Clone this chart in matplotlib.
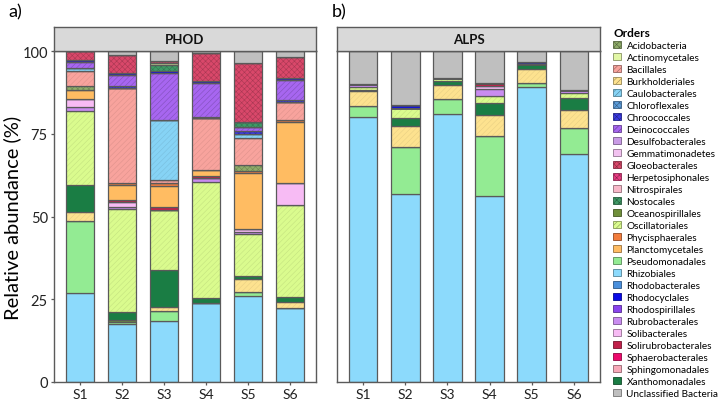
import matplotlib
matplotlib.use("Agg")
import matplotlib.pyplot as plt
from matplotlib.patches import Patch
import matplotlib.colors as mcolors
import numpy as np

plt.rcParams['font.family'] = ['Lato', 'DejaVu Sans']
plt.rcParams['hatch.linewidth'] = 0.4

samples = ["S1", "S2", "S3", "S4", "S5", "S6"]
panels = ["PHOD", "ALPS"]

# values: PHOD S1..S6, then ALPS S1..S6 (relative abundance, %)
rhizobiales         = [27.0, 17.5, 18.3, 23.8, 25.9, 22.4, 80.0, 56.8, 81.1, 56.3, 89.0, 68.8]
pseudomonadales     = [21.5, 0.7, 3.2, 0.0, 1.4, 0.0, 3.3, 14.1, 4.4, 18.1, 1.2, 8.0]
oceanospirillales   = [0.0, 0.6, 0.0, 0.0, 0.0, 0.0, 0.0, 0.0, 0.0, 0.0, 0.0, 0.0]
burkholderiales     = [2.8, 0.0, 1.1, 0.0, 3.8, 1.9, 4.5, 6.4, 4.3, 6.3, 4.5, 5.4]
xanthomonadales     = [8.3, 2.3, 11.2, 1.5, 1.0, 1.5, 0.5, 2.5, 1.0, 3.5, 1.4, 3.5]
oscillatoriales     = [22.2, 31.2, 18.3, 35.2, 12.6, 27.7, 0.9, 3.0, 1.0, 2.3, 0.0, 1.6]
rubrobacterales     = [1.4, 0.5, 0.0, 1.2, 0.5, 0.0, 0.8, 0.0, 0.0, 2.0, 0.0, 0.9]
solibacterales      = [2.3, 1.5, 0.0, 0.0, 1.0, 6.5, 0.0, 0.0, 0.0, 0.8, 0.0, 0.0]
gemmatimonadetes    = [0.0, 0.0, 0.0, 0.0, 0.0, 0.0, 0.0, 0.0, 0.0, 0.0, 0.0, 0.0]
solirubrobacterales = [0.0, 0.7, 0.7, 0.6, 0.0, 0.0, 0.0, 0.0, 0.0, 1.0, 0.0, 0.0]
planctomycetales    = [2.7, 4.6, 6.5, 1.8, 16.9, 18.7, 0.0, 0.0, 0.0, 0.0, 0.0, 0.0]
phycisphaerales     = [0.0, 0.5, 0.8, 0.0, 0.7, 0.5, 0.0, 0.0, 0.0, 0.0, 0.0, 0.0]
acidobacteria       = [1.3, 0.0, 0.0, 0.0, 1.8, 0.0, 0.0, 0.0, 0.0, 0.0, 0.0, 0.0]
bacillales          = [4.6, 28.6, 0.9, 15.7, 8.0, 5.3, 0.0, 0.0, 0.0, 0.0, 0.0, 0.0]
sphingomonadales    = [0.0, 0.0, 0.0, 0.0, 0.0, 0.0, 0.0, 0.0, 0.0, 0.0, 0.0, 0.0]
caulobacterales     = [0.9, 0.0, 18.2, 0.0, 1.3, 0.0, 0.0, 0.0, 0.0, 0.0, 0.0, 0.0]
chloroflexales      = [0.0, 0.0, 0.0, 0.0, 0.0, 0.0, 0.0, 0.0, 0.0, 0.0, 0.0, 0.0]
rhodobacterales     = [0.0, 0.0, 0.0, 0.0, 0.0, 0.0, 0.0, 0.0, 0.0, 0.0, 0.0, 0.0]
chroococcales       = [0.0, 0.8, 0.0, 0.4, 1.0, 0.6, 0.0, 0.0, 0.0, 0.0, 0.0, 0.0]
deinococcales       = [1.7, 3.3, 14.1, 10.0, 1.0, 6.2, 0.0, 0.0, 0.0, 0.0, 0.0, 0.0]
rhodospirillales    = [0.0, 0.0, 0.0, 0.0, 0.0, 0.0, 0.0, 0.0, 0.0, 0.0, 0.0, 0.0]
rhodocyclales       = [0.6, 0.6, 0.6, 0.8, 0.0, 0.4, 0.0, 1.0, 0.0, 0.0, 0.5, 0.0]
nostocales          = [0.0, 0.0, 1.9, 0.0, 1.6, 0.0, 0.0, 0.0, 0.0, 0.0, 0.0, 0.0]
actinomycetales     = [0.0, 0.0, 0.6, 0.0, 0.0, 0.0, 0.0, 0.0, 0.0, 0.0, 0.0, 0.0]
desulfobacterales   = [0.0, 0.0, 0.0, 0.0, 0.0, 0.0, 0.0, 0.0, 0.0, 0.0, 0.0, 0.0]
nitrospirales       = [0.0, 0.0, 0.0, 0.0, 0.0, 0.0, 0.0, 0.0, 0.0, 0.0, 0.0, 0.0]
gloeobacterales     = [2.7, 5.5, 0.7, 8.3, 17.9, 6.4, 0.0, 0.0, 0.0, 0.0, 0.0, 0.0]
herpetosiphonales   = [0.0, 0.0, 0.0, 0.0, 0.0, 0.0, 0.0, 0.0, 0.0, 0.0, 0.0, 0.0]
sphaerobacterales   = [0.0, 0.0, 0.0, 0.0, 0.0, 0.0, 0.0, 0.0, 0.0, 0.0, 0.0, 0.0]
unclassified        = [0.0, 1.1, 2.9, 0.7, 3.6, 1.9, 10.0, 16.2, 8.2, 9.7, 3.4, 11.8]

# legend order (as displayed)
legend_orders = ["Acidobacteria", "Actinomycetales", "Bacillales", "Burkholderiales",
                 "Caulobacterales", "Chloroflexales", "Chroococcales", "Deinococcales",
                 "Desulfobacterales", "Gemmatimonadetes", "Gloeobacterales",
                 "Herpetosiphonales", "Nitrospirales", "Nostocales", "Oceanospirillales",
                 "Oscillatoriales", "Phycisphaerales", "Planctomycetales", "Pseudomonadales",
                 "Rhizobiales", "Rhodobacterales", "Rhodocyclales", "Rhodospirillales",
                 "Rubrobacterales", "Solibacterales", "Solirubrobacterales",
                 "Sphaerobacterales", "Sphingomonadales", "Xanthomonadales",
                 "Unclassified Bacteria"]

colors = {
    "Acidobacteria": "#8fac6a", "Actinomycetales": "#e2f7a6", "Bacillales": "#f8a39d",
    "Burkholderiales": "#fde28f", "Caulobacterales": "#86d3f5", "Chloroflexales": "#5b9bd8",
    "Chroococcales": "#3a3ae0", "Deinococcales": "#a766f0", "Desulfobacterales": "#c99be6",
    "Gemmatimonadetes": "#f2c2f0", "Gloeobacterales": "#d9486a", "Herpetosiphonales": "#e83c82",
    "Nitrospirales": "#f7b7c8", "Nostocales": "#3f9a66", "Oceanospirillales": "#6f8f3a",
    "Oscillatoriales": "#dafb8e", "Phycisphaerales": "#f27c3c", "Planctomycetales": "#ffbc62",
    "Pseudomonadales": "#93eb93", "Rhizobiales": "#8cdafc", "Rhodobacterales": "#4a8fdc",
    "Rhodocyclales": "#0a0ae6", "Rhodospirillales": "#8a44ee", "Rubrobacterales": "#c98cf0",
    "Solibacterales": "#f7bbf4", "Solirubrobacterales": "#c0204a",
    "Sphaerobacterales": "#ec0a6c", "Sphingomonadales": "#f7a8b8",
    "Xanthomonadales": "#1a7d44", "Unclassified Bacteria": "#bfbfbf",
}
hatches = {
    "Acidobacteria": "xxxxxx", "Chloroflexales": "xxxxxx", "Chroococcales": "xxxxxx",
    "Deinococcales": "//////", "Gloeobacterales": "xxxxxx", "Herpetosiphonales": "xxxxxx",
    "Nostocales": "xxxxxx", "Oscillatoriales": "//////", "Bacillales": "//////",
    "Caulobacterales": "//////", "Burkholderiales": "//////",
}
hatch_strength = {"Oscillatoriales": 0.9, "Bacillales": 0.9, "Caulobacterales": 0.9,
                  "Burkholderiales": 0.92}

# stacking order bottom -> top
stack = [
    ("Rhizobiales", rhizobiales), ("Pseudomonadales", pseudomonadales),
    ("Oceanospirillales", oceanospirillales), ("Burkholderiales", burkholderiales),
    ("Xanthomonadales", xanthomonadales), ("Oscillatoriales", oscillatoriales),
    ("Rubrobacterales", rubrobacterales), ("Solibacterales", solibacterales),
    ("Gemmatimonadetes", gemmatimonadetes), ("Solirubrobacterales", solirubrobacterales),
    ("Planctomycetales", planctomycetales), ("Phycisphaerales", phycisphaerales),
    ("Acidobacteria", acidobacteria), ("Bacillales", bacillales),
    ("Sphingomonadales", sphingomonadales), ("Caulobacterales", caulobacterales),
    ("Chloroflexales", chloroflexales), ("Rhodobacterales", rhodobacterales),
    ("Chroococcales", chroococcales), ("Deinococcales", deinococcales),
    ("Rhodospirillales", rhodospirillales), ("Rhodocyclales", rhodocyclales),
    ("Nostocales", nostocales), ("Actinomycetales", actinomycetales),
    ("Desulfobacterales", desulfobacterales), ("Nitrospirales", nitrospirales),
    ("Gloeobacterales", gloeobacterales), ("Herpetosiphonales", herpetosiphonales),
    ("Sphaerobacterales", sphaerobacterales), ("Unclassified Bacteria", unclassified),
]


def darker(c, f=0.8):
    r, g, b = mcolors.to_rgb(c)
    return (r * f, g * f, b * f)


W, H = 720, 402
fig = plt.figure(figsize=(W / 100, H / 100), dpi=100)

edge = "#5a5a5a"
axes_px = [(54, 316), (337, 600)]
y_bot, y_top, strip_top = 383, 52, 28
x = np.arange(len(samples))

for pi, (panel, (l, r)) in enumerate(zip(panels, axes_px)):
    ax = fig.add_axes([l / W, (H - y_bot) / H, (r - l) / W, (y_bot - y_top) / H])
    bottom = np.zeros(len(samples))
    for name, vals in stack:
        v = np.array(vals[pi * 6:(pi + 1) * 6])
        c = colors[name]
        h = hatches.get(name)
        hc = darker(c, hatch_strength.get(name, 0.78)) if h else c
        ax.bar(x, v, 0.68, bottom=bottom, color=c, edgecolor=hc, hatch=h, linewidth=0)
        ax.bar(x, v, 0.68, bottom=bottom, fill=False, edgecolor=edge, linewidth=0.9)
        bottom += v
    ax.set_xlim(-0.62, 5.62)
    ax.set_ylim(0, 100)
    ax.set_xticks(x)
    ax.set_xticklabels(samples, fontsize=10)
    ax.set_yticks([0, 25, 50, 75, 100])
    for s in ax.spines.values():
        s.set_color(edge)
        s.set_linewidth(1.0)
    ax.tick_params(axis="both", colors=edge, length=2.5, width=0.9, labelcolor="#222222")
    ax.tick_params(axis="x", pad=1.5)
    if pi == 0:
        ax.set_yticklabels(["0", "25", "50", "75", "100"], fontsize=10.5)
        ax.tick_params(axis="y", pad=2)
        ax.set_ylabel("Relative abundance (%)", fontsize=14.5, labelpad=1)
    else:
        ax.tick_params(axis="y", left=False, labelleft=False)
    # strip
    sax = fig.add_axes([l / W, (H - y_top) / H, (r - l) / W, (y_top - strip_top) / H])
    sax.set_facecolor("#d9d9d9")
    sax.set_xticks([])
    sax.set_yticks([])
    for s in sax.spines.values():
        s.set_color(edge)
        s.set_linewidth(1.0)
    sax.text(0.5, 0.48, panel, ha="center", va="center", fontsize=9.5,
             fontweight="bold", transform=sax.transAxes, color="#111111")

fig.text(8 / W, 1 - 12 / H, "a)", fontsize=13, ha="left", va="center")
fig.text(332 / W, 1 - 12 / H, "b)", fontsize=13, ha="left", va="center")

handles = [Patch(facecolor=colors[n], edgecolor=darker(colors[n], 0.6),
                 hatch=hatches.get(n), linewidth=0.6, label=n) for n in legend_orders]
leg = fig.legend(handles=handles, loc="upper left", bbox_to_anchor=(613 / W, 1 - 28 / H),
                 frameon=False, fontsize=7.2, title="Orders",
                 title_fontproperties={"weight": "bold", "size": 8.5},
                 handlelength=0.8, handleheight=0.8, handletextpad=0.55,
                 labelspacing=0.27, borderaxespad=0, borderpad=0)
leg._legend_box.align = "left"

fig.savefig("out.png", dpi=100)
